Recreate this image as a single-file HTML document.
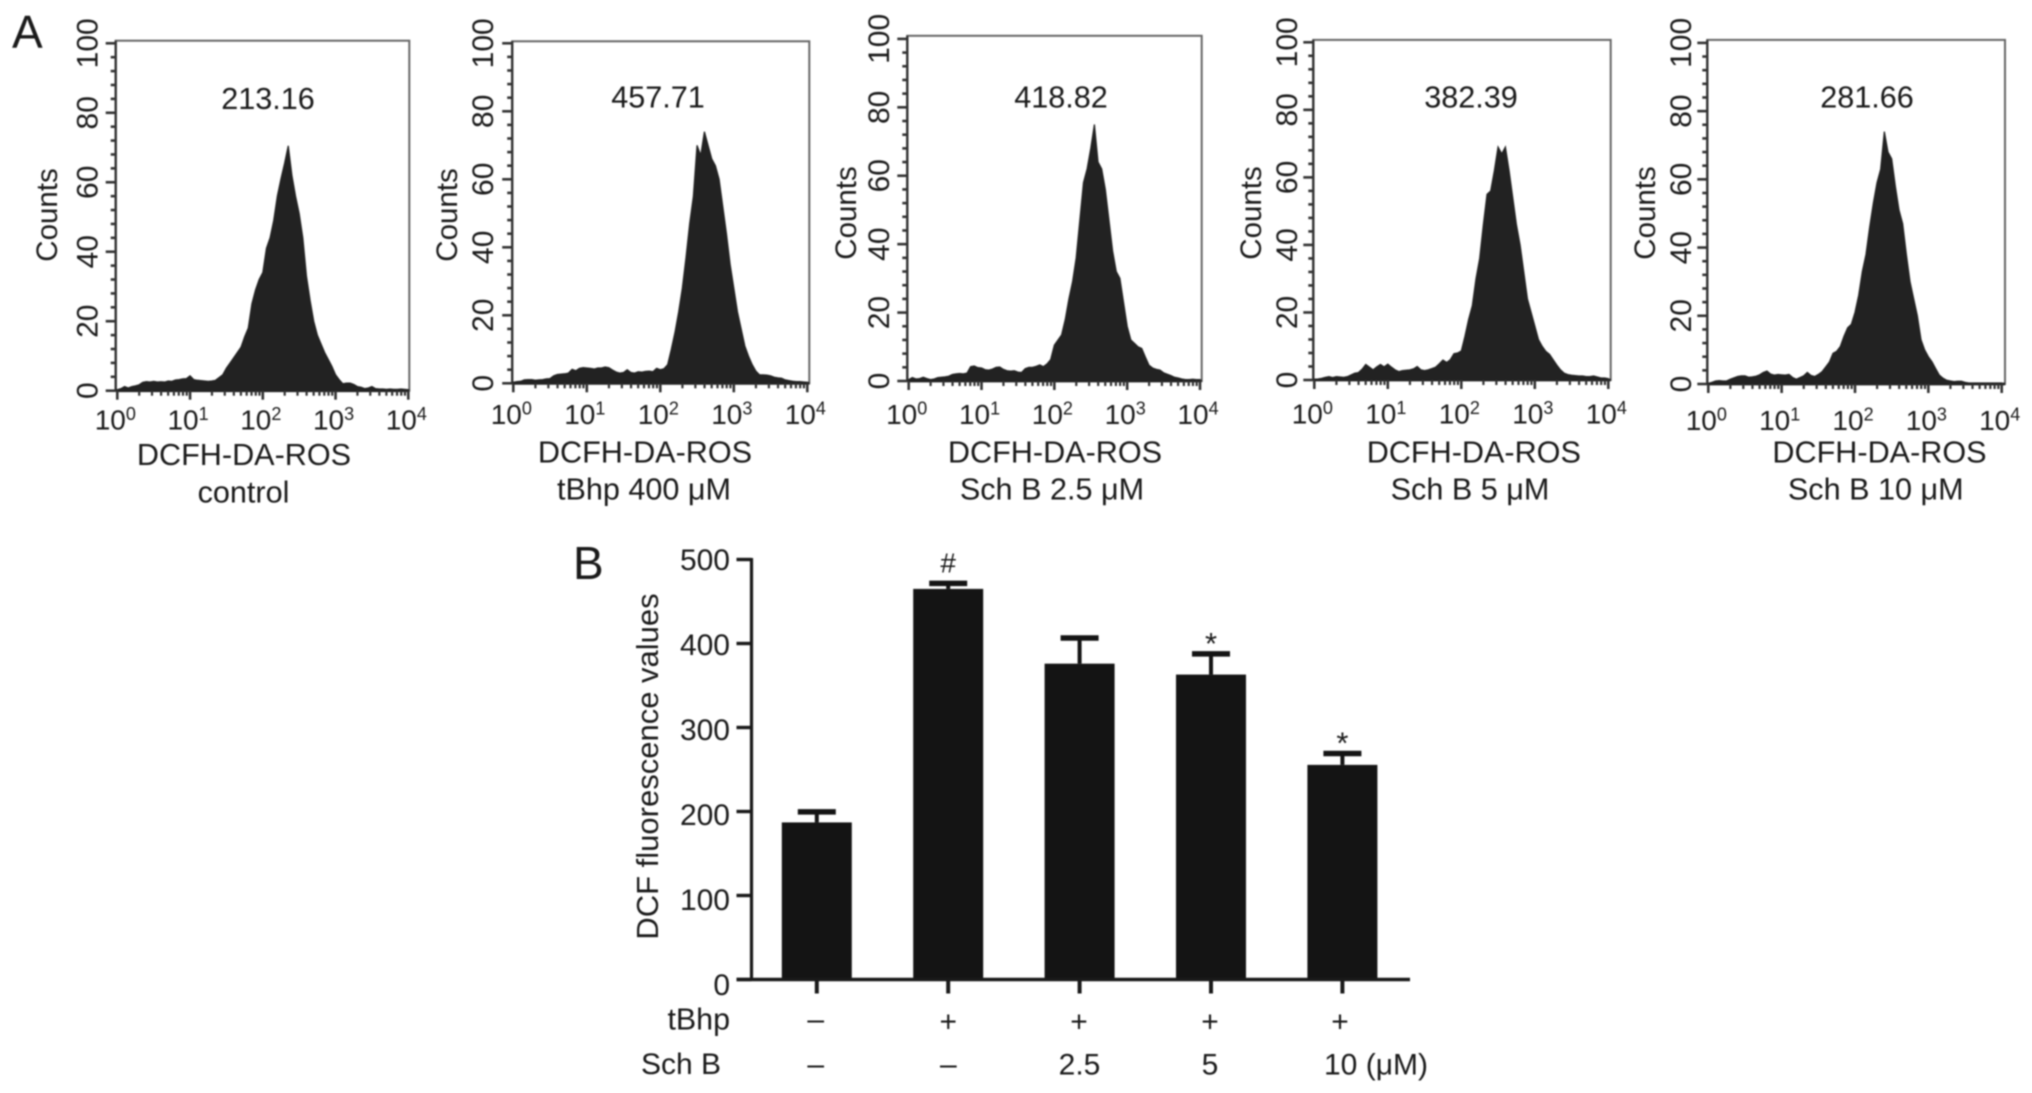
<!DOCTYPE html>
<html lang="en">
<head>
<meta charset="utf-8">
<title>DCFH-DA ROS flow cytometry histograms and DCF fluorescence bar chart</title>
<style>
  html, body { margin: 0; padding: 0; width: 2032px; height: 1093px; overflow: hidden; background: #fff; }
  svg { display: block; filter: blur(0.7px); }
  text { font-family: "Liberation Sans", Arial, sans-serif; fill: #1a1a1a; }
</style>
</head>
<body>
<svg id="figure" width="2032" height="1093" viewBox="0 0 2032 1093" xmlns="http://www.w3.org/2000/svg">
  <rect width="2032" height="1093" fill="#ffffff"/>

  <text x="12" y="48" font-size="46">A</text>
  <text x="573" y="579" font-size="46">B</text>

  <g id="panel-0">
    <text x="268" y="109" font-size="30.6" text-anchor="middle">213.16</text>
    <text transform="translate(57,215) rotate(-90)" font-size="29.5" text-anchor="middle">Counts</text>
    <text x="244" y="465" font-size="30.6" text-anchor="middle">DCFH-DA-ROS</text>
    <text x="243.5" y="502.3" font-size="30.6" text-anchor="middle">control</text>
  </g>
  <g id="panel-1">
    <text x="658" y="107.6" font-size="30.6" text-anchor="middle">457.71</text>
    <text transform="translate(457,215) rotate(-90)" font-size="29.5" text-anchor="middle">Counts</text>
    <text x="645" y="462.3" font-size="30.6" text-anchor="middle">DCFH-DA-ROS</text>
    <text x="644" y="499.3" font-size="30.6" text-anchor="middle">tBhp 400 μM</text>
  </g>
  <g id="panel-2">
    <text x="1061" y="107.6" font-size="30.6" text-anchor="middle">418.82</text>
    <text transform="translate(856,213) rotate(-90)" font-size="29.5" text-anchor="middle">Counts</text>
    <text x="1055" y="462.3" font-size="30.6" text-anchor="middle">DCFH-DA-ROS</text>
    <text x="1052" y="499.3" font-size="30.6" text-anchor="middle">Sch B 2.5 μM</text>
  </g>
  <g id="panel-3">
    <text x="1471" y="107.6" font-size="30.6" text-anchor="middle">382.39</text>
    <text transform="translate(1261,213) rotate(-90)" font-size="29.5" text-anchor="middle">Counts</text>
    <text x="1473.8" y="462.3" font-size="30.6" text-anchor="middle">DCFH-DA-ROS</text>
    <text x="1470" y="499.3" font-size="30.6" text-anchor="middle">Sch B 5 μM</text>
  </g>
  <g id="panel-4">
    <text x="1867" y="107.6" font-size="30.6" text-anchor="middle">281.66</text>
    <text transform="translate(1655,213) rotate(-90)" font-size="29.5" text-anchor="middle">Counts</text>
    <text x="1879.5" y="462.3" font-size="30.6" text-anchor="middle">DCFH-DA-ROS</text>
    <text x="1875.8" y="499.3" font-size="30.6" text-anchor="middle">Sch B 10 μM</text>
  </g>

  <g id="bar-chart">
    <text transform="translate(658,766.5) rotate(-90)" font-size="31" text-anchor="middle">DCF fluorescence values</text>
    <text x="730" y="1029.5" font-size="30.4" text-anchor="end">tBhp</text>
    <text x="721" y="1074" font-size="30" text-anchor="end">Sch B</text>
    <text x="815.7" y="1029" font-size="30" text-anchor="middle">–</text>
    <text x="948.3" y="1031.5" font-size="30" text-anchor="middle">+</text>
    <text x="1079" y="1031.5" font-size="30" text-anchor="middle">+</text>
    <text x="1210" y="1031.5" font-size="30" text-anchor="middle">+</text>
    <text x="1340" y="1031.5" font-size="30" text-anchor="middle">+</text>
    <text x="815.7" y="1074" font-size="30" text-anchor="middle">–</text>
    <text x="948.3" y="1074" font-size="30" text-anchor="middle">–</text>
    <text x="1079.5" y="1074.5" font-size="30" text-anchor="middle">2.5</text>
    <text x="1210" y="1074.5" font-size="30" text-anchor="middle">5</text>
    <text x="1324" y="1074.5" font-size="30">10 (μM)</text>
  </g>

<script>
// ---------- Histogram data: counts per 1/20-decade bin ----------
const countsControl = [0.3,0.6,1.2,0.8,1.2,1.4,1.7,2.4,2.6,2.5,2.7,2.5,2.6,2.5,2.8,2.7,3.1,3.2,3.4,3.5,4.3,3.2,3.0,2.9,2.8,2.7,2.8,3.0,3.8,4.6,6.5,8,9.5,11,12.5,15.5,18,25,29,32,34,41,44,49,56,61,65.5,70.5,62,56,51,44,33,26,20,16,13.5,11,9,7,4.6,3.2,2,2.2,2.2,1.8,1.2,1,0.6,0.8,1.2,0.6,0.5,0.5,0.4,0.5,0.4,0.4,0.5,0.4,0.3];
const countsTbhp400 = [0.3,0.5,0.6,1,1.1,1.1,0.9,1,1.1,1.3,1.4,2.2,2.6,2.7,2.8,3,4.1,3.7,4.4,4.6,4.5,4.4,4.2,4.5,4.5,4.8,4.6,3.9,3.3,3,3.2,4,3.2,3,3.4,3.3,3.5,3.6,3.4,4.4,4,4.3,5.5,10,15,21,28,37,47,55,70,67,74,70,66,64,60,52,44,35,28,21,16,11,8,5.5,3.6,2.5,2.5,2.4,2.2,1.8,1.6,1.5,1,0.8,0.6,0.5,0.5,0.4,0.3];
const countsSchB25 = [0.4,1,0.6,0.7,1.1,0.7,0.4,0.6,1,1.1,1.2,1.4,1.9,2.1,2.2,2.1,2.3,4.2,4.4,3.9,3.8,3.3,3.2,3.5,4,4.1,3.4,3,2.9,3,2.6,2.5,3.6,4,4,4.3,4.7,4.2,5,6.3,10.5,12,13.5,18,24,29,36,47,58,62,68,75,64,62,56,47,38,32,30,23,16,12,11,10,9.5,7,4.6,3.8,3.4,3.2,2.4,2,1.6,1.1,0.9,0.6,0.4,0.4,0.5,0.4,0.4];
const countsSchB5 = [0.2,0.3,0.5,0.8,1,0.7,1,0.9,0.8,1,1.5,2,2.2,3.2,4.6,3.8,3,3.9,4.6,3.9,4.7,3.8,3,2.5,2.8,2.9,3,3.3,4,3,2.8,3,3.4,3.8,4.8,5.9,5.2,6,7.8,8,8.6,13,18,22,30,36,46,55,56,62,69,67,69,62,54,46,40,32,24,20,16,12,10,8.5,7.6,6,4.4,3,2,1.6,1.4,1.3,1.2,1.2,1,1,1.2,0.9,0.6,0.6,0.4];
const countsSchB10 = [0.2,0.5,0.9,1,0.9,0.9,1.4,1.8,2.2,2.4,2.4,2,2.1,2.3,2.7,3.4,3.8,2.9,2.6,2.8,2.7,2.6,2.8,1.9,1.4,1.9,2.4,3.4,2.5,2.2,2.8,3.6,5,6.4,9,9.6,11,14,16.5,17.5,21,26,33,38,46,53,59,63,74,68,66,58,51,47,38,30,25,20,13,10,8,6.5,4.5,2.6,1.7,1.1,0.9,0.7,0.8,0.8,0.5,0.3,0.3,0.3,0.3,0.3,0.3,0.3,0.3,0.3,0.3];
const histogramSeries = [countsControl, countsTbhp400, countsSchB25, countsSchB5, countsSchB10];
const histogramYTicks = [0, 20, 40, 60, 80, 100];
const histogramYMinorStep = [4];
const histogramXExponents = [0, 1, 2, 3, 4];

// ---------- Bar chart data ----------
const barCategories = ['control', 'tBhp', 'Sch B 2.5', 'Sch B 5', 'Sch B 10'];
const barValues = [187, 465, 376, 363, 255.5];
const barErrors = [15, 9, 33, 27, 16];
const barMarkers = ['', '#', '', '*', '*'];
const barYTicks = [0, 100, 200, 300, 400, 500];

// ---------- Layout ----------
const NS = 'http://www.w3.org/2000/svg';
const binsPerDecade = 20;
const panelFrames = [
  {l:115.7, r:409.3, t:40.7, x0:117.3, x4:408.3,  y0:390.7, y100:43.3, tickX:97.5, tickY:429.3},
  {l:512.2, r:809.3, t:41.3, x0:513.3, x4:807.3,  y0:383.3, y100:43.3, tickX:493,  tickY:424},
  {l:907.3, r:1201.7,t:35.8, x0:908.7, x4:1200,   y0:381,   y100:38.9, tickX:889,  tickY:424},
  {l:1313.3,r:1610.7,t:39.9, x0:1314.3,x4:1608.3, y0:380,   y100:42.3, tickX:1297, tickY:423.3},
  {l:1707.3,r:2005,  t:39.9, x0:1708.3,x4:2001.7, y0:384,   y100:42.9, tickX:1691, tickY:430}
];
const barFrame = {axisX:751.5, axisRight:1410, y0:979.5, y500:559.5, first:816.8, step:131.4, width:70};

function svgEl(tag, parent) {
  const el = document.createElementNS(NS, tag);
  parent.appendChild(el);
  return el;
}
function setLine(el, x1, y1, x2, y2, width, color) {
  el.setAttribute('x1', x1);
  el.setAttribute('y1', y1);
  el.setAttribute('x2', x2);
  el.setAttribute('y2', y2);
  el.setAttribute('stroke', color);
  el.setAttribute('stroke-width', width);
}

// ---------- Histograms ----------
function drawHistogram(index) {
  const frame = panelFrames[index];
  const counts = histogramSeries[index];
  const group = document.getElementById('panel-' + index);
  const xScale = d => frame.x0 + (d / 4) * (frame.x4 - frame.x0);
  const yScale = c => frame.y0 - (c / 100) * (frame.y0 - frame.y100);

  // Frame
  const box = svgEl('rect', group);
  
  
  box.setAttribute('x', frame.l);
  box.setAttribute('y', frame.t);
  box.setAttribute('width', frame.r - frame.l);
  box.setAttribute('height', frame.y0 - frame.t);
  box.setAttribute('fill', 'none');
  box.setAttribute('stroke', '#666');
  box.setAttribute('stroke-width', '2');

  // Filled histogram outline
  let d = 'M' + xScale(0) + ' ' + yScale(0);
  counts.forEach((c, i) => {
    d += 'L' + xScale(i / binsPerDecade) + ' ' + yScale(c);
  });
  d += 'L' + xScale((counts.length - 1) / binsPerDecade) + ' ' + yScale(0) + 'Z';
  const area = svgEl('path', group);
  
  
  area.setAttribute('d', d);
  area.setAttribute('fill', '#222222');
  area.setAttribute('stroke', '#222222');
  area.setAttribute('stroke-width', '1.2');

  // Axis lines
  const leftAxis = svgEl('line', group);
  
  
  setLine(leftAxis, frame.l, frame.t, frame.l, frame.y0, 2.4, '#333');
  const bottomAxis = svgEl('line', group);
  
  
  setLine(bottomAxis, frame.l, frame.y0, frame.r, frame.y0, 2.8, '#222');

  // Y ticks
  for (let v = 0; v <= 100; v += histogramYMinorStep[0]) {
    const major = histogramYTicks.includes(v);
    const tick = svgEl('line', group);
    
    
    setLine(tick, frame.l - (major ? 10 : 5), yScale(v), frame.l, yScale(v), 2.6, '#333');
  }
  histogramYTicks.forEach(v => {
    const label = svgEl('text', group);
    
    
    label.setAttribute('transform', 'translate(' + frame.tickX + ',' + yScale(v) + ') rotate(-90)');
    label.setAttribute('font-size', '30');
    label.setAttribute('text-anchor', 'middle');
    label.textContent = String(v);
  });

  // X ticks (log scale)
  histogramXExponents.forEach(e => {
    const tick = svgEl('line', group);
    
    
    setLine(tick, xScale(e), frame.y0, xScale(e), frame.y0 + 9, 2.6, '#333');
    if (e < 4) {
      for (let m = 2; m <= 9; m++) {
        const minor = svgEl('line', group);
        
        
        const px = xScale(e + Math.log10(m));
        setLine(minor, px, frame.y0, px, frame.y0 + 5, 2.2, '#333');
      }
    }
    const label = svgEl('text', group);
    
    
    label.setAttribute('x', xScale(e) - 2);
    label.setAttribute('y', frame.tickY);
    label.setAttribute('font-size', '28');
    label.setAttribute('text-anchor', 'middle');
    label.textContent = '10';
    const sup = svgEl('tspan', label);
    sup.setAttribute('dy', '-9.5');
    sup.setAttribute('font-size', '18');
    sup.textContent = String(e);
  });
}
histogramSeries.forEach((_, i) => drawHistogram(i));

// ---------- Bar chart ----------
function drawBars() {
  const group = document.getElementById('bar-chart');
  const f = barFrame;
  const yScale = v => f.y0 - (v / 500) * (f.y0 - f.y500);
  const xScale = i => f.first + i * f.step;

  barCategories.forEach((name, i) => {
    const cx = xScale(i);
    const top = yScale(barValues[i]);
    const errTop = yScale(barValues[i] + barErrors[i]);

    const stem = svgEl('line', group);
    
    
    setLine(stem, cx, top, cx, errTop, 4, '#141414');

    const cap = svgEl('line', group);
    
    
    setLine(cap, cx - 19, errTop + 2, cx + 19, errTop + 2, 5.5, '#141414');

    const bar = svgEl('rect', group);
    
    
    bar.setAttribute('x', cx - f.width / 2);
    bar.setAttribute('y', top);
    bar.setAttribute('width', f.width);
    bar.setAttribute('height', f.y0 - top);
    bar.setAttribute('fill', '#141414');

    const tick = svgEl('line', group);
    
    
    setLine(tick, cx, f.y0, cx, f.y0 + 14, 4, '#1a1a1a');

    if (barMarkers[i]) {
      const isHash = barMarkers[i] === '#';
      const marker = svgEl('text', group);
      
      
      marker.setAttribute('x', cx);
      marker.setAttribute('y', errTop + (isHash ? -9 : 2));
      marker.setAttribute('font-size', isHash ? '28' : '31');
      marker.setAttribute('text-anchor', 'middle');
      marker.textContent = barMarkers[i];
    }
  });

  const yAxis = svgEl('line', group);
  
  
  setLine(yAxis, f.axisX, f.y500 - 1.5, f.axisX, f.y0 + 1.5, 3.2, '#1a1a1a');

  const xAxis = svgEl('line', group);
  
  
  setLine(xAxis, f.axisX - 15, f.y0, f.axisRight, f.y0, 3.6, '#1a1a1a');

  barYTicks.forEach(v => {
    const tick = svgEl('line', group);
    
    
    setLine(tick, f.axisX - 15, yScale(v), f.axisX, yScale(v), 3.4, '#1a1a1a');

    const label = svgEl('text', group);
    
    
    label.setAttribute('x', 730);
    label.setAttribute('y', yScale(v) + 10.5 + (500 - v) / 500 * 5);
    label.setAttribute('font-size', '30');
    label.setAttribute('text-anchor', 'end');
    label.textContent = String(v);
  });
}
drawBars();
</script>
</svg>
</body>
</html>
